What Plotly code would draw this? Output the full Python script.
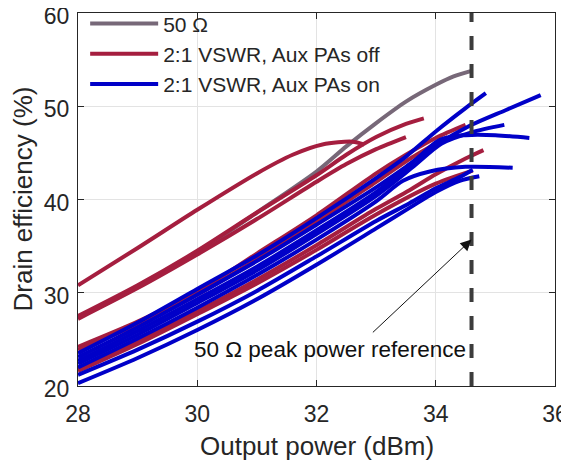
import plotly.graph_objects as go

# ---------------- data ----------------
pout_50 = [28, 29, 30, 31, 32, 32.5, 33, 33.5, 34, 34.3, 34.6]
eff_50 = [27.3, 30.6, 34.3, 38.6, 43.0, 45.7, 48.2, 50.5, 52.3, 53.2, 53.8]

# 2:1 VSWR, Aux PAs off
off_pout = [
    [28, 29, 30, 31, 31.6, 32.1, 32.6, 32.8],
    [28, 29, 30, 31, 32, 32.5, 33, 33.5, 33.8],
    [28, 29, 30, 31, 32, 32.5, 33, 33.5],
    [28, 29, 30, 31, 32, 33, 33.5, 34, 34.5],
    [28, 29, 30, 31, 32, 33, 33.6, 34.2],
    [28, 29, 30, 31, 32, 33, 33.56, 34, 34.5, 34.8],
    [28, 29, 30, 31, 32, 33, 34, 34.62],
]
off_eff = [
    [30.8, 34.8, 38.9, 42.8, 44.8, 45.9, 46.2, 45.9],
    [27.5, 30.8, 34.5, 38.6, 42.6, 44.8, 46.7, 48.1, 48.7],
    [27.2, 30.5, 34.1, 37.9, 41.9, 43.8, 45.4, 46.7],
    [24.2, 26.9, 30.1, 34.2, 38.3, 42.8, 44.8, 46.6, 48.0],
    [23.9, 26.6, 29.8, 33.6, 37.6, 41.9, 44.5, 46.7],
    [21.8, 24.8, 28.0, 31.4, 35.1, 39.0, 41.0, 42.7, 44.4, 45.3],
    [21.6, 24.5, 27.7, 31.0, 34.6, 38.4, 41.7, 43.1],
]

# 2:1 VSWR, Aux PAs on
on_pout = [
    [28, 29, 30, 31, 32, 33, 33.5, 34, 34.5, 34.84],
    [28, 29, 30, 31, 32, 33, 33.5, 34, 34.57, 35.18, 35.76],
    [28, 29, 30, 31, 32, 33, 33.5, 34.07, 34.5, 35, 35.57],
    [28, 29, 30, 31, 32, 33, 33.6, 34.1, 34.6, 35.15],
    [28, 29, 30, 31, 32, 33, 33.45, 33.9, 34.5, 35.29],
    [28, 29, 30, 31, 32, 33, 33.56, 34, 34.4, 34.62],
    [28, 29, 30, 31, 32, 33, 33.56, 34, 34.4, 34.73],
]
on_eff = [
    [23.5, 26.8, 30.4, 34.0, 38.0, 42.3, 44.6, 47.3, 49.8, 51.4],
    [23.1, 26.3, 29.8, 33.4, 37.3, 41.3, 43.5, 45.8, 47.9, 49.6, 51.2],
    [22.7, 25.9, 29.3, 32.8, 36.7, 40.8, 43.3, 46.4, 46.9, 46.9, 46.6],
    [22.4, 25.5, 28.9, 32.4, 36.3, 40.4, 43.4, 46.0, 47.2, 48.0],
    [22.0, 25.1, 28.4, 31.9, 35.7, 39.8, 42.0, 43.0, 43.5, 43.4],
    [21.2, 23.9, 26.9, 30.2, 33.9, 37.7, 39.6, 41.2, 42.4, 43.2],
    [20.3, 23.0, 26.0, 29.3, 33.0, 36.9, 39.1, 40.8, 42.0, 42.5],
]

peak_power_ref = 34.6
x_ticks = [28, 30, 32, 34, 36]
y_ticks = [20, 30, 40, 50, 60]

# ---------------- styles ----------------
C_GRAY = "#776878"
C_RED = "#A51E3F"
C_BLUE = "#0000C8"
LW = 4
FONT = "Liberation Sans, Arial, sans-serif"
TXT = "#262626"

# page body has an 8px default margin, so the figure is drawn 8px smaller
FIG_W, FIG_H = 561, 458
M_L, M_R, M_T, M_B = 70, 14, 5, 80
PLOT_W = FIG_W - M_L - M_R
PLOT_H = FIG_H - M_T - M_B

fig = go.Figure()

fig.add_trace(go.Scatter(
    x=pout_50, y=eff_50, mode="lines", name="50 Ω",
    line=dict(color=C_GRAY, width=LW, shape="spline", smoothing=0.8),
    legendgroup="g50"))

for i, (xs, ys) in enumerate(zip(off_pout, off_eff)):
    fig.add_trace(go.Scatter(
        x=xs, y=ys, mode="lines", name="2:1 VSWR, Aux PAs off",
        line=dict(color=C_RED, width=LW, shape="spline", smoothing=0.8),
        legendgroup="off", showlegend=(i == 0)))

for i, (xs, ys) in enumerate(zip(on_pout, on_eff)):
    fig.add_trace(go.Scatter(
        x=xs, y=ys, mode="lines", name="2:1 VSWR, Aux PAs on",
        line=dict(color=C_BLUE, width=LW, shape="spline", smoothing=0.8),
        legendgroup="on", showlegend=(i == 0)))

# vertical dashed reference line
fig.add_shape(type="line", xref="x", yref="paper",
              x0=peak_power_ref, x1=peak_power_ref, y0=0, y1=1,
              line=dict(color="#3C3C3C", width=4, dash="14px,14px"))

# annotation text and arrow
fig.add_annotation(x=32.23, y=23.9, xref="x", yref="y",
                   text="50 Ω peak power reference", showarrow=False,
                   font=dict(family=FONT, size=22.5, color="#111111"))
fig.add_annotation(x=34.6, y=35.7, xref="x", yref="y",
                   ax=32.92, ay=25.6, axref="x", ayref="y",
                   text="", showarrow=True, arrowhead=2, arrowsize=2.2,
                   arrowwidth=1, arrowcolor="#111111")

# axis titles
fig.add_annotation(x=0.5, y=-60 / PLOT_H, xref="paper", yref="paper",
                   xanchor="center", yanchor="middle", showarrow=False,
                   text="Output power (dBm)",
                   font=dict(family=FONT, size=26, color=TXT))
fig.add_annotation(x=-56 / PLOT_W, y=0.5, xref="paper", yref="paper",
                   xanchor="center", yanchor="middle", showarrow=False,
                   textangle=-90, text="Drain efficiency (%)",
                   font=dict(family=FONT, size=26, color=TXT))

axis_common = dict(
    showline=True, linecolor=TXT, linewidth=1, mirror="ticks",
    ticks="inside", ticklen=6, tickcolor=TXT,
    showgrid=True, gridcolor="#E3E3E3", gridwidth=1,
    zeroline=False, automargin=False, ticklabeloverflow="allow",
    tickfont=dict(family=FONT, size=23, color=TXT),
)

fig.update_xaxes(range=[28, 36], tickvals=x_ticks, ticklabelstandoff=7,
                 **axis_common)
fig.update_yaxes(range=[20, 60], tickvals=y_ticks, ticklabelstandoff=3,
                 ticklabelshift=3, **axis_common)

fig.update_layout(
    template="none",
    width=FIG_W, height=FIG_H,
    margin=dict(l=M_L, r=M_R, t=M_T, b=M_B, autoexpand=False),
    plot_bgcolor="white", paper_bgcolor="white",
    font=dict(family=FONT, color=TXT),
    showlegend=True,
    legend=dict(x=0.015, y=1.026, xanchor="left", yanchor="top",
                bgcolor="rgba(0,0,0,0)", borderwidth=0,
                font=dict(family=FONT, size=21, color=TXT),
                tracegroupgap=0, itemwidth=68),
)

fig.write_html("out.html")
